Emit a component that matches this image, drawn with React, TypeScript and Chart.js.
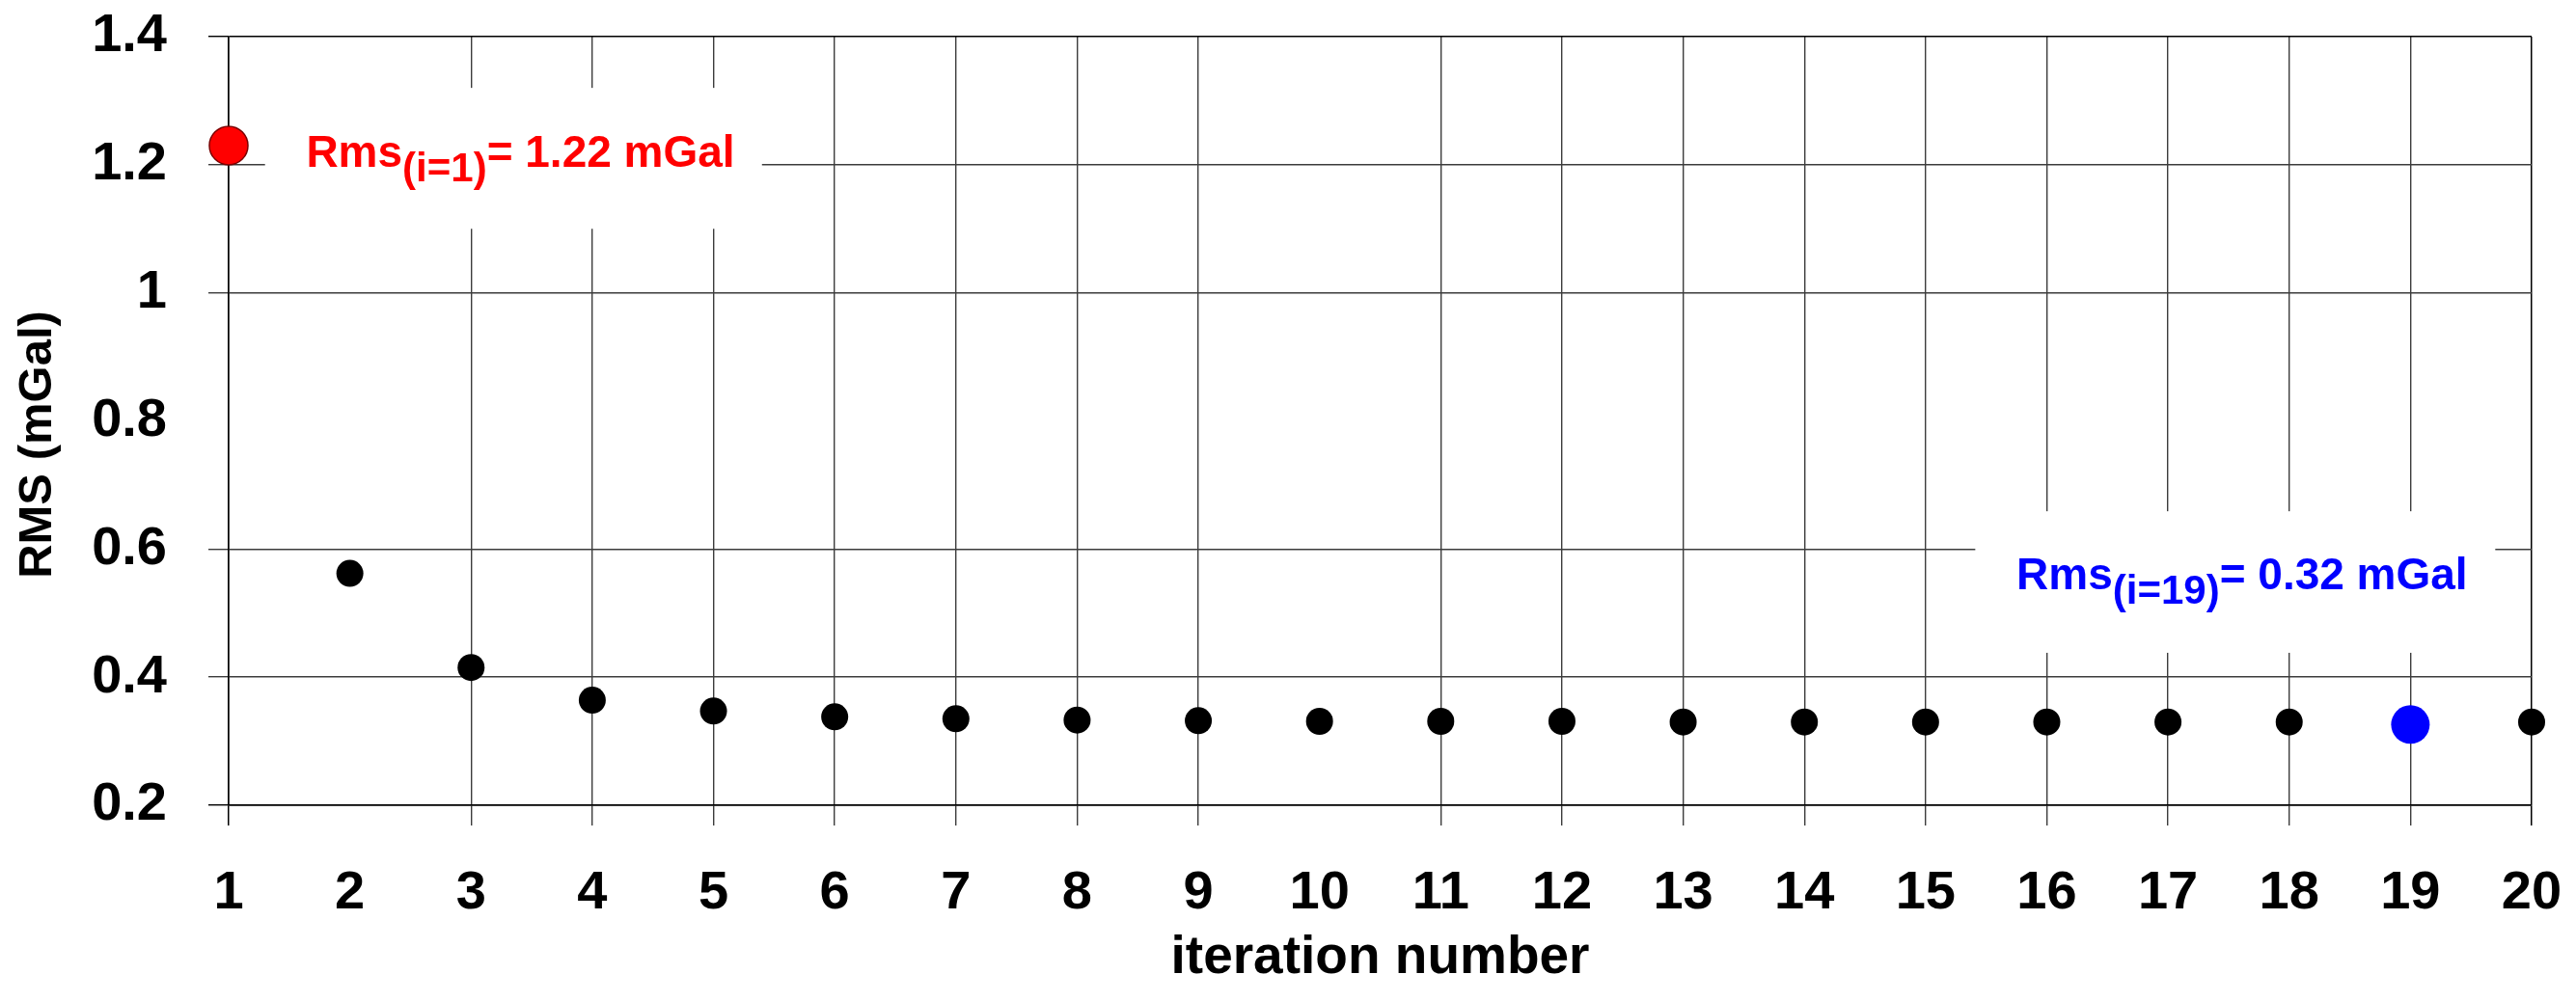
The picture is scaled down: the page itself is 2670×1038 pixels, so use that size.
import React, { useEffect, useRef } from "react";
import { Chart, registerables } from "chart.js";

Chart.register(...registerables);

// ---- data ----
const iterations = [1, 2, 3, 4, 5, 6, 7, 8, 9, 10, 11, 12, 13, 14, 15, 16, 17, 18, 19, 20];
const rmsValues = [
  1.23, 0.562, 0.415, 0.364, 0.347, 0.338, 0.335, 0.333, 0.332, 0.331,
  0.331, 0.331, 0.33, 0.33, 0.33, 0.33, 0.33, 0.33, 0.326, 0.33,
];
const yTickValues = [0.2, 0.4, 0.6, 0.8, 1.0, 1.2, 1.4];
const xAxisTitle = "iteration number";
const yAxisTitle = "RMS (mGal)";
const firstIteration = 1;
const bestIteration = 19;
const firstNote = { base: "Rms", sub: "(i=1)", rest: "= 1.22 mGal" };
const bestNote = { base: "Rms", sub: "(i=19)", rest: "= 0.32 mGal" };
// grid lines that are absent in the original figure
const hiddenXGrid = [2, 10];
const hiddenYGrid = [0.8];

// ---- styling ----
const FONT = "'Liberation Sans', Arial, Helvetica, sans-serif";
const RED = "#ff0000";
const BLUE = "#0000ff";
const GRID = "#3c3c3c";

type Note = { base: string; sub: string; rest: string };

// annotation boxes in data coordinates
const notes = [
  { note: firstNote, color: RED, box: [1.3, 1.32, 5.4, 1.1], anchor: [1.64, 1.197] },
  { note: bestNote, color: BLUE, box: [15.41, 0.659, 19.7, 0.438], anchor: [15.75, 0.537] },
];

const annotationPlugin = {
  id: "rmsNotes",
  beforeDatasetsDraw(chart: any) {
    const { ctx, scales } = chart;
    const xs = scales.x;
    const ys = scales.y;
    ctx.save();
    notes.forEach(({ note, color, box, anchor }) => {
      const x0 = xs.getPixelForValue(box[0]);
      const y0 = ys.getPixelForValue(box[1]);
      const x1 = xs.getPixelForValue(box[2]);
      const y1 = ys.getPixelForValue(box[3]);
      ctx.fillStyle = "#ffffff";
      ctx.fillRect(x0, y0, x1 - x0, y1 - y0);
      const n = note as Note;
      let x = xs.getPixelForValue(anchor[0]);
      const y = ys.getPixelForValue(anchor[1]);
      ctx.fillStyle = color;
      ctx.textBaseline = "alphabetic";
      ctx.textAlign = "left";
      ctx.font = `bold 46px ${FONT}`;
      ctx.fillText(n.base, x, y);
      x += ctx.measureText(n.base).width;
      ctx.font = `bold 42px ${FONT}`;
      ctx.fillText(n.sub, x, y + 15);
      x += ctx.measureText(n.sub).width;
      ctx.font = `bold 46px ${FONT}`;
      ctx.fillText(n.rest, x, y);
    });
    ctx.restore();
  },
};

function pointColor(i: number) {
  if (iterations[i] === firstIteration) return RED;
  if (iterations[i] === bestIteration) return BLUE;
  return "#000000";
}

export default function App() {
  const canvasRef = useRef<HTMLCanvasElement | null>(null);

  useEffect(() => {
    if (!canvasRef.current) return;
    const data = iterations.map((it, i) => ({ x: it, y: rmsValues[i] }));
    const chart = new Chart(canvasRef.current, {
      type: "scatter",
      data: {
        datasets: [
          {
            data,
            showLine: false,
            clip: false as any,
            pointRadius: iterations.map((it) =>
              it === firstIteration || it === bestIteration ? 20 : 14
            ),
            pointHoverRadius: 14,
            pointBackgroundColor: iterations.map((_, i) => pointColor(i)),
            pointBorderColor: iterations.map((it, i) =>
              it === firstIteration ? "#7a0000" : pointColor(i)
            ),
            pointBorderWidth: iterations.map((it) => (it === firstIteration ? 1.5 : 0)),
          },
        ],
      },
      options: {
        responsive: false,
        animation: false,
        events: [],
        layout: { padding: { top: 38, right: 46, left: 0, bottom: 0 } },
        plugins: {
          legend: { display: false },
          tooltip: { enabled: false },
          title: { display: false },
        },
        scales: {
          x: {
            type: "linear",
            min: iterations[0],
            max: iterations[iterations.length - 1],
            afterBuildTicks: (scale: any) => {
              scale.ticks = iterations.map((v) => ({ value: v }));
            },
            afterFit: (scale: any) => {
              scale.height = 203;
              scale.paddingLeft = 0;
              scale.paddingRight = 0;
            },
            ticks: {
              autoSkip: false,
              maxRotation: 0,
              padding: 37,
              color: "#000",
              font: { family: FONT, size: 56, weight: "bold", lineHeight: 1.2 },
              callback: (v: any) => String(v),
            },
            grid: {
              drawTicks: true,
              tickLength: 21,
              lineWidth: (c: any) =>
                c.tick && (c.tick.value === iterations[0] || c.tick.value === iterations[iterations.length - 1]) ? 1.5 : 1.4,
              color: (c: any) => {
                const v = c.tick ? c.tick.value : null;
                if (hiddenXGrid.includes(v)) return "rgba(0,0,0,0)";
                if (v === iterations[0] || v === iterations[iterations.length - 1]) return "#000";
                return GRID;
              },
            },
            border: { display: true, color: "#000", width: 1.5 },
            title: {
              display: true,
              text: xAxisTitle,
              color: "#000",
              font: { family: FONT, size: 55, weight: "bold", lineHeight: 1.2 },
              padding: { top: 0, bottom: 11 },
            },
          },
          y: {
            type: "linear",
            min: yTickValues[0],
            max: yTickValues[yTickValues.length - 1],
            afterBuildTicks: (scale: any) => {
              scale.ticks = yTickValues.map((v) => ({ value: v }));
            },
            afterFit: (scale: any) => {
              scale.width = 237;
              scale.paddingTop = 0;
              scale.paddingBottom = 0;
            },
            ticks: {
              padding: 43,
              color: "#000",
              font: { family: FONT, size: 56, weight: "bold", lineHeight: 1.2 },
              callback: (v: any) => String(Number(Number(v).toFixed(1))),
            },
            grid: {
              drawTicks: true,
              tickLength: 21,
              lineWidth: 1.4,
              color: (c: any) => {
                const v = c.tick ? Number(c.tick.value.toFixed(1)) : null;
                if (hiddenYGrid.includes(v as number)) return "rgba(0,0,0,0)";
                if (v === yTickValues[0] || v === yTickValues[yTickValues.length - 1]) return "#000";
                return GRID;
              },
            },
            border: { display: true, color: "#000", width: 1.5 },
            title: {
              display: true,
              // two trailing en spaces move the rotated title slightly down, as in the original
              text: yAxisTitle + "\u2002\u2002",
              color: "#000",
              font: { family: FONT, size: 49, weight: "bold", lineHeight: 1.2 },
              padding: { top: 10, bottom: 0 },
            },
          },
        },
      },
      plugins: [annotationPlugin],
    });
    return () => chart.destroy();
  }, []);

  return (
    <div style={{ position: "absolute", left: 0, top: 0, width: 2670, height: 1038, background: "#fff" }}>
      <canvas ref={canvasRef} width={2670} height={1038} style={{ display: "block", width: 2670, height: 1038 }} />
    </div>
  );
}
